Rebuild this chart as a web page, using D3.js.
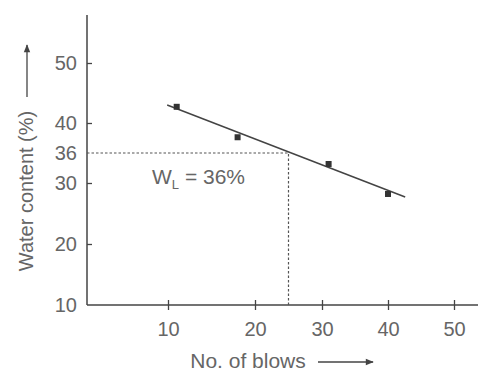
<!DOCTYPE html>
<html lang="en">
<head>
<meta charset="UTF-8"/>
<title>Liquid limit chart</title>
<script src="https://d3js.org/d3.v7.min.js"></script>
<style>
	body { margin: 0; background: #fff; }
	text { font-family: "Liberation Sans", Arial, sans-serif; fill: #666; }
</style>
</head>
<body>
<div id="chart"></div>
<script>
	var w = 493;
	var h = 374;

	// data
	var blows = [11, 18, 31, 40];
	var water = [42.7, 38.1, 33.8, 28.2];
	var fitBlows = [9.9, 42.6];
	var fitWater = [43, 27.7];
	var liquidBlows = 25;
	var liquidLimit = 36;
	var xTicks = [10, 20, 30, 40, 50];
	var yTicks = [10, 20, 30, 36, 40, 50];

	// the drawing is hand made, so the scales are piecewise
	var xScale = d3.scaleLinear()
		.domain([0, 10, 20, 30, 40, 50, 53.6])
		.range([87, 168, 255, 322, 388, 454, 478]);

	var yScale = d3.scaleLinear()
		.domain([10, 20, 30, 36, 40, 50, 58])
		.range([305, 244, 183, 153, 123, 63, 15]);

	var svg = d3.select("#chart")
		.append("svg")
		.attr("width", w)
		.attr("height", h);

	svg.append("defs").append("marker")
		.attr("id", "arrow")
		.attr("viewBox", "0 0 10 10")
		.attr("refX", 9)
		.attr("refY", 5)
		.attr("markerWidth", 9)
		.attr("markerHeight", 8)
		.attr("markerUnits", "userSpaceOnUse")
		.attr("orient", "auto")
		.append("path")
		.attr("d", "M0,1L10,5L0,9Z")
		.attr("fill", "#444");

	// axes
	var xAxis = svg.append("g")
		.attr("transform", "translate(0," + yScale(10) + ")")
		.call(d3.axisBottom(xScale).tickValues(xTicks).tickSize(5).tickPadding(12));

	var yAxis = svg.append("g")
		.attr("transform", "translate(" + xScale(0) + ",0)")
		.call(d3.axisLeft(yScale).tickValues(yTicks).tickSize(5).tickPadding(5));

	xAxis.select(".domain").attr("d", "M" + xScale(0) + ",0H" + xScale(53.6));
	yAxis.select(".domain").attr("d", "M0," + yScale(10) + "V" + yScale(58));

	svg.selectAll(".domain").attr("stroke", "#444").attr("stroke-width", 1.5);
	xAxis.selectAll(".tick line").attr("y1", -5).attr("stroke", "#444").attr("stroke-width", 1.3);
	yAxis.selectAll(".tick line").attr("x2", 5).attr("stroke", "#444").attr("stroke-width", 1.3);
	yAxis.selectAll(".tick").filter(function (d) { return d === 36 || d === 10; })
		.select("line").remove();
	svg.selectAll(".tick text")
		.attr("font-size", "20px")
		.attr("fill", "#666")
		.attr("font-family", "Liberation Sans, Arial, sans-serif");

	// dotted guide lines to the liquid limit
	svg.append("path")
		.attr("d", "M" + xScale(0) + "," + yScale(liquidLimit)
			+ "H" + xScale(liquidBlows) + "V" + yScale(10))
		.attr("fill", "none")
		.attr("stroke", "#555")
		.attr("stroke-width", 1.2)
		.attr("stroke-dasharray", "2.5,2");

	// fitted line
	svg.append("line")
		.attr("x1", xScale(fitBlows[0]))
		.attr("y1", yScale(fitWater[0]))
		.attr("x2", xScale(fitBlows[1]))
		.attr("y2", yScale(fitWater[1]))
		.attr("stroke", "#444")
		.attr("stroke-width", 1.5);

	// points
	svg.selectAll("rect.pt")
		.data(blows)
		.enter()
		.append("rect")
		.attr("class", "pt")
		.attr("x", function (d) { return xScale(d) - 3; })
		.attr("y", function (d, i) { return yScale(water[i]) - 3; })
		.attr("width", 6)
		.attr("height", 6)
		.attr("fill", "#333");

	// W_L label
	var wl = svg.append("text")
		.attr("x", 152)
		.attr("y", 184)
		.attr("font-size", "21px");
	wl.append("tspan").text("W");
	wl.append("tspan").attr("font-size", "13px").attr("dy", 5).text("L");
	wl.append("tspan").attr("dy", -5).text(" = 36%");

	// axis titles
	svg.append("text")
		.attr("transform", "translate(33,191) rotate(-90)")
		.attr("text-anchor", "middle")
		.attr("font-size", "20px")
		.text("Water content (%)");

	svg.append("line")
		.attr("x1", 27).attr("y1", 97)
		.attr("x2", 27).attr("y2", 45)
		.attr("stroke", "#444")
		.attr("stroke-width", 1.3)
		.attr("marker-end", "url(#arrow)");

	svg.append("text")
		.attr("x", 248)
		.attr("y", 368)
		.attr("text-anchor", "middle")
		.attr("font-size", "21px")
		.text("No. of blows");

	svg.append("line")
		.attr("x1", 318).attr("y1", 362)
		.attr("x2", 373).attr("y2", 362)
		.attr("stroke", "#444")
		.attr("stroke-width", 1.3)
		.attr("marker-end", "url(#arrow)");
</script>
</body>
</html>
